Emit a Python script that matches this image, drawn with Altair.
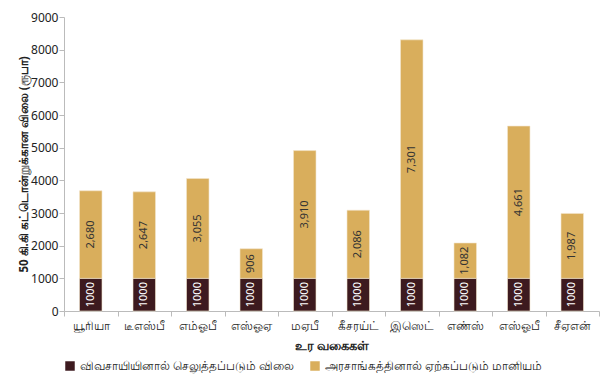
import altair as alt
import pandas as pd

categories = ["யூரியா", "டீஎஸ்பீ", "எம்ஓபீ", "எஸ்ஓஏ", "மஏபீ", "கீசரய்ட்",
              "இஸெட்", "எண்ஸ்", "எஸ்ஓபீ", "சீஏஎன்"]
farmer_price = [1000, 1000, 1000, 1000, 1000, 1000, 1000, 1000, 1000, 1000]
subsidy = [2680, 2647, 3055, 906, 3910, 2086, 7301, 1082, 4661, 1987]
series_names = ["விவசாயியினால் செலுத்தப்படும் விலை", "அரசாங்கத்தினால் ஏற்கப்படும் மானியம்"]
series_colors = ["#3D1A1F", "#D9AE5C"]
y_ticks = [0, 1000, 2000, 3000, 4000, 5000, 6000, 7000, 8000, 9000]
y_title = "50 கி.கி கட்டொன்றுக்கான விலை (ரூபா)"
x_title = "உர வகைகள்"

rows = []
for i, c in enumerate(categories):
    rows.append({"cat": c, "type": series_names[0], "order": 0, "value": farmer_price[i]})
    rows.append({"cat": c, "type": series_names[1], "order": 1, "value": subsidy[i]})
df = pd.DataFrame(rows)

FONT = "Noto Sans"

base = alt.Chart(df).transform_stack(
    stack="value", groupby=["cat"], as_=["y0", "y1"], sort=[alt.SortField("order")]
).transform_calculate(
    mid="(datum.y0 + datum.y1) / 2",
    label="datum.order == 0 ? format(datum.value, 'd') : format(datum.value, ',')",
)

x_axis = alt.Axis(
    title=x_title, labelAngle=0, tickBand="extent",
    labelFontSize=12, labelColor="#222", labelPadding=4,
    titleFontSize=12.5, titleFontWeight="bold", titleColor="#222", titlePadding=8,
    domainColor="#BBBBBB", tickColor="#BBBBBB", tickSize=5,
)
y_axis = alt.Axis(
    title=y_title, values=y_ticks, format="d", grid=False, labelOverlap=False,
    labelFontSize=12, labelColor="#222", labelPadding=1,
    titleFontSize=11.5, titleFontWeight="bold", titleColor="#222", titlePadding=1,
    domainColor="#BBBBBB", tickColor="#BBBBBB", tickSize=5,
)
y_scale = alt.Scale(domain=[0, 9000])
x_scale = alt.Scale(paddingInner=0, paddingOuter=0)

bars = base.mark_bar(width=alt.RelativeBandSize(0.42), stroke="#F3E6CC", strokeWidth=0.6).encode(
    x=alt.X("cat:N", sort=categories, scale=x_scale, axis=x_axis),
    y=alt.Y("y0:Q", scale=y_scale, axis=y_axis),
    y2="y1:Q",
    color=alt.Color(
        "type:N",
        scale=alt.Scale(domain=series_names, range=series_colors),
        legend=alt.Legend(
            title=None, orient="bottom", direction="horizontal", symbolType="square",
            symbolSize=90, symbolStrokeWidth=0, labelFontSize=12, labelColor="#222",
            labelLimit=0, columnPadding=14, offset=8, padding=0,
        ),
    ),
)

texts = base.mark_text(angle=270, fontSize=11, font=FONT, align="center", baseline="middle").encode(
    x=alt.X("cat:N", sort=categories, scale=x_scale, axis=x_axis),
    y=alt.Y("mid:Q", scale=y_scale, axis=y_axis),
    text="label:N",
    color=alt.condition("datum.order == 0", alt.value("white"), alt.value("#333333")),
)

chart = alt.layer(bars, texts).properties(
    width=593, height=367,
    autosize=alt.AutoSizeParams(type="fit", contains="padding"),
    padding={"left": 10, "top": 3, "right": 1, "bottom": 3},
).configure(font=FONT).configure_view(stroke=None)

chart.save("out.html", embed_options={"renderer": "svg", "actions": False})
